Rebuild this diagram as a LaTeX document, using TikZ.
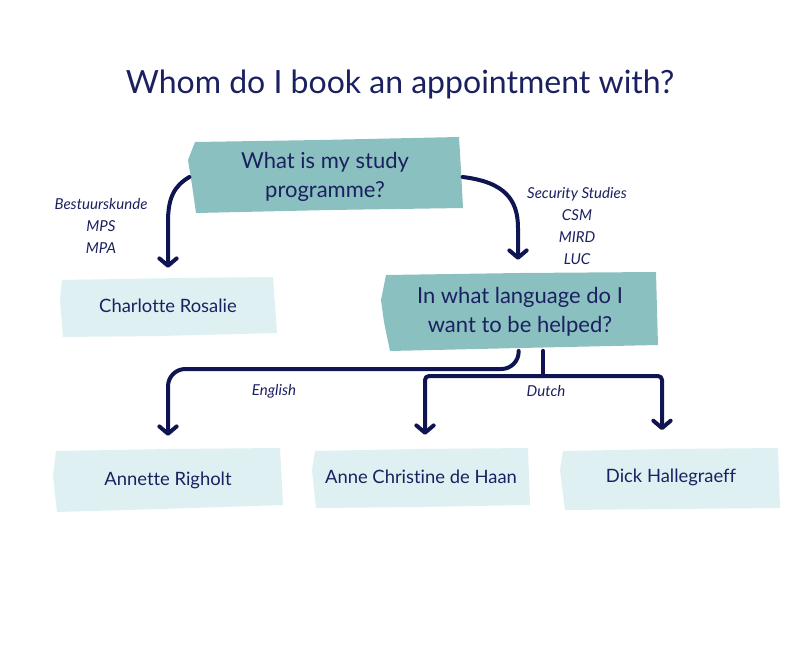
\documentclass[tikz,border=0pt]{standalone}
\usepackage{fontspec}
\setmainfont{Lato}[Ligatures=NoCommon]
\usetikzlibrary{arrows.meta,calc}
\definecolor{navy}{HTML}{1B2160}
\definecolor{arrowc}{HTML}{0E1552}
\definecolor{tealbox}{HTML}{8BC0C0}
\definecolor{lightbox}{HTML}{DFF0F2}
\tikzset{
  title/.style={text=navy,font=\fontsize{24}{30}\selectfont},
  qtext/.style={text=navy,font=\fontsize{16.5}{22}\selectfont,align=center},
  ntext/.style={text=navy,font=\fontsize{13.8}{16}\selectfont},
  lbl/.style={text=navy,font=\itshape\fontsize{11.3}{16.5}\selectfont,align=center},
  conn/.style={draw=arrowc,line width=3pt,line cap=round,line join=round},
  arr/.style={conn,-{Straight Barb[length=5.5pt,width=13pt,round]}},
}
\begin{document}
\begin{tikzpicture}[x=0.75pt,y=-0.75pt]
\useasboundingbox (0,0) rectangle (800,671);
\fill[white] (0,0) rectangle (800,671);
% box shapes
\fill[tealbox] (195,142) -- (320,140) -- (459,137) -- (461,170) -- (463,208) -- (330,210) -- (196,213) -- (192,185) -- (188,160) -- cycle;
\fill[lightbox] (62,280) -- (180,278) -- (273,277) -- (277,333) -- (160,336) -- (63,337) -- (60,300) -- cycle;
\fill[tealbox] (386,275) -- (520,273) -- (656,272) -- (657,310) -- (658,345) -- (520,348) -- (390,351) -- (384,322) -- (381,300) -- cycle;
\fill[lightbox] (56,451) -- (170,449) -- (280,448) -- (283,505) -- (160,509) -- (57,512) -- (53,475) -- cycle;
\fill[lightbox] (315,451) -- (420,449) -- (528,448) -- (530,505) -- (420,507) -- (316,508) -- (312,470) -- cycle;
\fill[lightbox] (563,451) -- (670,449) -- (778,448) -- (780,508) -- (670,509) -- (565,510) -- (560,470) -- cycle;
% nodes
\node[title] (t) at (400,84) {Whom do I book an appointment with?};
\node[qtext,minimum width=206pt,minimum height=54pt] (q1) at (325,177) {What is my study\\programme?};
\node[ntext,minimum width=162pt,minimum height=44pt] (c) at (168,306) {Charlotte Rosalie};
\node[qtext,minimum width=207pt,minimum height=58pt] (q2) at (520,312) {In what language do I\\want to be helped?};
\node[ntext,minimum width=172pt,minimum height=48pt] (a) at (168,480) {Annette Righolt};
\node[ntext,minimum width=163pt,minimum height=45pt] (ac) at (421,477) {Anne Christine de Haan};
\node[ntext,minimum width=165pt,minimum height=46pt] (d) at (671,477) {Dick Hallegraeff};
% labels
\node[lbl] (l1) at (101,226) {Bestuurskunde\\MPS\\MPA};
\node[lbl] (l2) at (577,226) {Security Studies\\CSM\\MIRD\\LUC};
\node[lbl] (l3) at (274,391) {English};
\node[lbl] (l4) at (546,391) {Dutch};
% connectors
\draw[arr,shorten >=6.5pt] ([xshift=1.5pt]q1.west) .. controls (174,186) and (168,198) .. (168,222) -- (c.north);
\draw[arr,shorten >=10pt] (q1.east) .. controls (505,182) and (518,200) .. (518,228) -- ([xshift=-1.5pt]q2.north);
\draw[arr,rounded corners=13pt,shorten >=9pt] ([xshift=-1pt]q2.south) -- ([xshift=-1pt]q2.south |- 0,369) -- (a.north |- 0,369) -- (a.north);
\coordinate (split) at (543,376);
\draw[conn] (split |- q2.south) -- (split);
\draw[arr,rounded corners=3pt,shorten >=9pt] (split) -| ([xshift=3pt]ac.north);
\draw[arr,rounded corners=3pt,shorten >=12pt] (split) -| ([xshift=-6.75pt]d.north);
\end{tikzpicture}
\end{document}
